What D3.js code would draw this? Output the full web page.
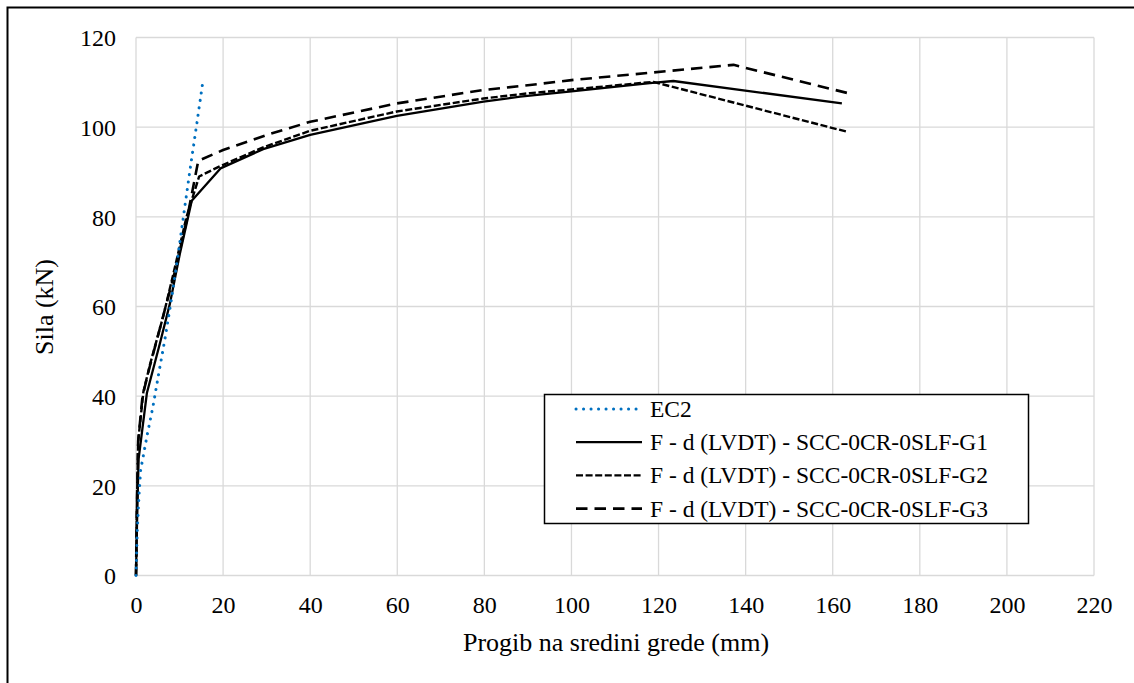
<!DOCTYPE html>
<html><head><meta charset="utf-8">
<script src="https://cdn.jsdelivr.net/npm/d3@7"></script>
<style>body{margin:0;background:#fff}svg{display:block}text{font-family:"Liberation Serif","Times New Roman",serif;fill:#000}</style>
</head><body>
<script>
const seriesNames = ["EC2","F - d (LVDT) - SCC-0CR-0SLF-G1","F - d (LVDT) - SCC-0CR-0SLF-G2","F - d (LVDT) - SCC-0CR-0SLF-G3"];
const ec2X = [0,0.3,0.7,1.07,2.5,3.9,5.3,6.8,8.2,9.6,11.1,12.6,14.0,15.3];
const ec2Y = [0,10,18,23.5,31,37.7,45.5,53.6,62,71.1,81.5,91.8,101,109.8];
const g1X = [0,0.3,0.6,2.5,5.5,7.8,10.1,12.8,19.4,29.2,40,59.9,79.8,88.2,100,118,123.4,162.1];
const g1Y = [0,15,26,40.7,51.8,60.7,71.9,83.6,90.8,95.1,98.3,102.5,105.7,106.8,108,109.8,110.3,105.3];
const g2X = [0,0.2,0.5,1.7,3.2,6.3,9,11.6,14.5,19.3,29.2,40,59.9,79.8,90.5,100,118.8,163.2];
const g2Y = [0,15,30,41,47,58,69,80,89,91.3,95.5,99.2,103.5,106.4,107.6,108.4,110.1,99];
const g3X = [0,0.2,0.5,1.5,3,6,9,11.6,14.3,20,30.8,40,59.9,79.8,90.5,100,118.8,137.2,164.7];
const g3Y = [0,15,30,40,46,57,68,79,92.5,94.9,98.5,101.2,105.3,108.3,109.4,110.5,112.2,113.9,107.3];
const xTicks = [0,20,40,60,80,100,120,140,160,180,200,220];
const yTicks = [0,20,40,60,80,100,120];
const xTitle = "Progib na sredini grede (mm)";
const yTitle = "Sila (kN)";

const W = 1134, H = 683;
const svg = d3.select("body").append("svg").attr("width", W).attr("height", H);
svg.append("rect").attr("width", W).attr("height", H).attr("fill", "#fff");
svg.append("path").attr("d", "M7.5,700 V7.5 H1150").attr("fill", "none").attr("stroke", "#000").attr("stroke-width", 2);

const x = d3.scaleLinear().domain([0, 220]).range([136, 1094]);
const y = d3.scaleLinear().domain([0, 120]).range([575.5, 37.5]);

const g = svg.append("g");
g.selectAll(".vg").data(xTicks).join("line")
  .attr("x1", d => x(d)).attr("x2", d => x(d)).attr("y1", y(0)).attr("y2", y(120))
  .attr("stroke", "#d9d9d9").attr("stroke-width", 1.3);
g.selectAll(".hg").data(yTicks).join("line")
  .attr("x1", x(0)).attr("x2", x(220)).attr("y1", d => y(d)).attr("y2", d => y(d))
  .attr("stroke", "#d9d9d9").attr("stroke-width", 1.3);

const xAxis = d3.axisBottom(x).tickValues(xTicks).tickSize(0).tickPadding(0);
const xa = svg.append("g").attr("transform", `translate(0,${y(0)})`).call(xAxis);
xa.select(".domain").remove();
xa.selectAll("text").attr("dy", null).attr("y", 37).style("font-size", "24px").style("font-family", "Liberation Serif");
const yAxis = d3.axisLeft(y).tickValues(yTicks).tickSize(0).tickPadding(0);
const ya = svg.append("g").attr("transform", `translate(${x(0)},0)`).call(yAxis);
ya.select(".domain").remove();
ya.selectAll("text").attr("x", -20).attr("dy", "0.34em").style("font-size", "24px").style("font-family", "Liberation Serif");

svg.append("text").attr("x", 616).attr("y", 651).attr("text-anchor", "middle").style("font-size", "26px").text(xTitle);
svg.append("text").attr("transform", "translate(53,307) rotate(-90)").attr("text-anchor", "middle").style("font-size", "26px").text(yTitle);

const styles = [
  {stroke: "#0070C0", width: 3, dash: "0.1,7.4", cap: "round"},
  {stroke: "#000", width: 2.3, dash: null, cap: "butt"},
  {stroke: "#000", width: 2.4, dash: "7,2.6", cap: "butt"},
  {stroke: "#000", width: 2.6, dash: "11.5,7", cap: "butt"}
];
const data = [
  ec2X.map((v, i) => [v, ec2Y[i]]),
  g1X.map((v, i) => [v, g1Y[i]]),
  g2X.map((v, i) => [v, g2Y[i]]),
  g3X.map((v, i) => [v, g3Y[i]])
];
const line = d3.line().x(d => x(d[0])).y(d => y(d[1]));
[1, 2, 3, 0].forEach(i => {
  svg.append("path").attr("d", line(data[i])).attr("fill", "none")
    .attr("stroke", styles[i].stroke).attr("stroke-width", styles[i].width)
    .attr("stroke-dasharray", styles[i].dash).attr("stroke-linecap", styles[i].cap)
    .attr("stroke-linejoin", "round");
});

const lg = svg.append("g");
lg.append("rect").attr("x", 544.5).attr("y", 394.5).attr("width", 484).attr("height", 129)
  .attr("fill", "#fff").attr("stroke", "#000").attr("stroke-width", 1.5);
seriesNames.forEach((n, i) => {
  const yy = 409 + i * 33.2;
  lg.append("line").attr("x1", 576).attr("x2", 642).attr("y1", yy).attr("y2", yy)
    .attr("stroke", styles[i].stroke).attr("stroke-width", styles[i].width)
    .attr("stroke-dasharray", styles[i].dash).attr("stroke-linecap", styles[i].cap);
  lg.append("text").attr("x", 650).attr("y", yy).attr("dy", "0.34em").style("font-size", "23.5px").text(n);
});
</script>
</body></html>
